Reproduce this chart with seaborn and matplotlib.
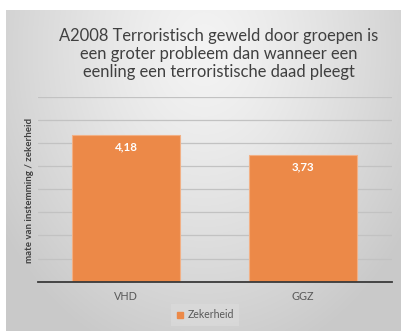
import numpy as np
import matplotlib
matplotlib.use("Agg")
import matplotlib.pyplot as plt
from matplotlib.lines import Line2D
import seaborn as sns

# Data
categories = ["VHD", "GGZ"]
values = [4.18, 3.73]
series_name = "Zekerheid"
title = ("A2008 Terroristisch geweld door groepen is\n"
         "een groter probleem dan wanneer een\n"
         "eenling een terroristische daad pleegt")
y_label = "mate van instemming / zekerheid"

sns.set_theme(style="white")
plt.rcParams["font.family"] = ["Lato", "DejaVu Sans"]

W, H = 401, 331
fig = plt.figure(figsize=(W / 100, H / 100), dpi=100)
fig.patch.set_facecolor("white")

# Chart area background: soft radial gray gradient
bg = fig.add_axes([6 / W, 0, 1 - 6 / W, 1 - 10 / H], zorder=0)
ny, nx = 200, 240
yy, xx = np.mgrid[0:ny, 0:nx]
cx, cy = nx * 0.5, ny * 0.12
d = np.sqrt(((xx - cx) / (nx * 0.62)) ** 2 + ((yy - cy) / (ny * 1.0)) ** 2)
d = np.clip(d, 0, 1)
light, dark = 0.955, 0.79
g = light - (light - dark) * d ** 1.3
img = np.dstack([g, g, g])
bg.imshow(img, aspect="auto", extent=[0, 1, 0, 1], origin="upper", interpolation="bicubic")
bg.set_axis_off()

# Main plot
ax = fig.add_axes([37.5 / W, 1 - 281.7 / H, 354 / W, (281.7 - 96.7) / H], zorder=2)
ax.set_facecolor("none")
orange = "#EC8948"
sns.barplot(x=categories, y=values, color=orange, width=0.61, ax=ax,
            edgecolor="#F2B085", linewidth=0.8, saturation=1, zorder=3)
ax.set_ylim(1, 5)
ax.set_yticks(np.arange(1, 5.01, 0.5))
ax.set_yticklabels([])
ax.yaxis.grid(True, color="#c2c2c2", linewidth=0.9)
ax.set_axisbelow(True)
for s in ["top", "right", "left"]:
    ax.spines[s].set_visible(False)
ax.spines["bottom"].set_color("#3a3a3a")
ax.spines["bottom"].set_linewidth(1.3)
ax.spines["bottom"].set_zorder(5)
ax.tick_params(axis="x", length=0, pad=7, labelsize=7.8, labelcolor="#595959")
ax.tick_params(axis="y", length=0)
ax.set_xlabel("")
ax.set_ylabel("")

for i, v in enumerate(values):
    ax.annotate(f"{v:.2f}".replace(".", ","), xy=(i, v), xytext=(0, -8.5),
                textcoords="offset points", ha="center", va="center",
                color="white", fontsize=8.3, fontweight="bold", zorder=6)

# Title and axis label
fig.text(219 / W, 1 - 54 / H, title, ha="center", va="center",
         fontsize=11.9, color="#404040", linespacing=1.17)
fig.text(30 / W, 1 - 190 / H, y_label, rotation=90, ha="center", va="center",
         fontsize=7.0, fontweight="bold", color="#404040")

# Legend
handle = Line2D([], [], marker="s", linestyle="none", markersize=4.8,
                markerfacecolor=orange, markeredgecolor=orange)
leg = fig.legend([handle], [series_name], loc="center",
                 bbox_to_anchor=(205 / W, 1 - 315 / H), frameon=True,
                 fontsize=7.6, handlelength=0.8, handletextpad=0.3,
                 borderpad=0.5, labelcolor="#595959")
leg.get_frame().set_facecolor("#dadada")
leg.get_frame().set_edgecolor("none")
leg.get_frame().set_boxstyle("square", pad=0)

fig.savefig("out.png", dpi=100)
